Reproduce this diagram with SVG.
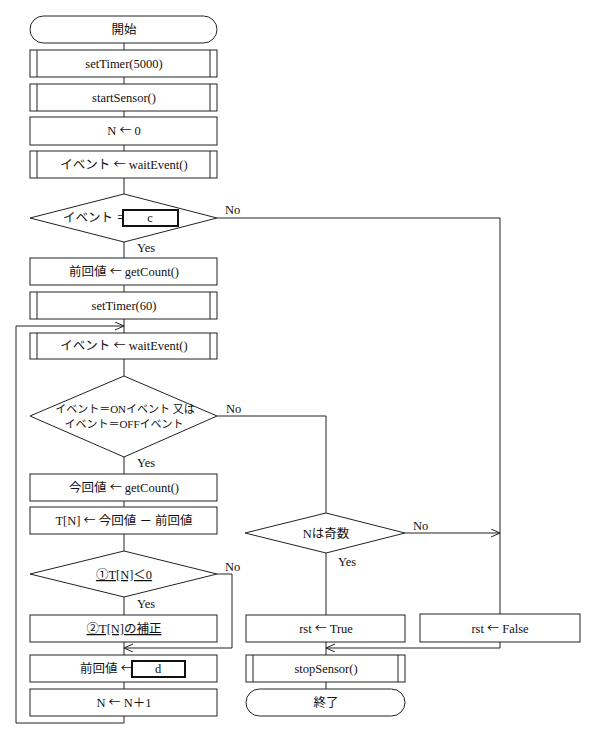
<svg xmlns="http://www.w3.org/2000/svg" width="597" height="729" viewBox="0 0 597 729">
<defs>
<style>
.s{fill:#fff;stroke:#222;stroke-width:1}
.b{fill:#fff;stroke:#111;stroke-width:2}
.l{fill:none;stroke:#222;stroke-width:1}
text{font-family:'Liberation Serif','Noto Sans CJK JP',serif;font-size:12.5px;fill:#111}
.c{text-anchor:middle}
.u{text-decoration:underline}
.a{font-family:'Noto Sans CJK JP',sans-serif;font-size:12px}
.sm{font-size:11px}
</style>
<marker id="ar" markerUnits="userSpaceOnUse" markerWidth="12" markerHeight="10" refX="9" refY="4" orient="auto">
<path d="M0,0 L9,4 L0,8" fill="none" stroke="#222" stroke-width="1"/>
</marker>
</defs>
<rect width="597" height="729" fill="#fff"/>
<g id="connectors">
<path class="l" d="M124,43 V50 M124,77 V84 M124,111 V117 M124,145 V151 M124,178 V194"/>
<path class="l" d="M124,242 V258 M124,285 V292 M124,319 V333"/>
<path class="l" d="M124,359 V376 M124,457 V474 M124,501 V507 M124,534 V551 M124,597 V615 M124,642 V655 M124,682 V689"/>
<path class="l" d="M217,218 H500 V614"/>
<path class="l" d="M217,416 H326 V513"/>
<path class="l" d="M405,533 H500" marker-end="url(#ar)"/>
<path class="l" d="M326,553 V615 M326,642 V655 M326,682 V689"/>
<path class="l" d="M500,642 V648 H326" marker-end="url(#ar)"/>
<path class="l" d="M217,574 H232 V648 H124" marker-end="url(#ar)"/>
<path class="l" d="M124,716 V723 H16 V326 H124" marker-end="url(#ar)"/>
<text x="225" y="214">No</text>
<text x="137" y="252">Yes</text>
<text x="226" y="413">No</text>
<text x="137" y="467">Yes</text>
<text x="225" y="571">No</text>
<text x="137" y="608">Yes</text>
<text x="413" y="530">No</text>
<text x="338" y="566">Yes</text>
</g>
<g id="start">
<rect class="s" x="30" y="16" width="187" height="27" rx="13.5"/>
<text class="c" x="124" y="34">開始</text>
</g>
<g id="setTimer5000">
<rect class="s" x="30" y="50" width="187" height="27"/>
<path class="l" d="M37,50 V77 M210,50 V77"/>
<text class="c" x="124" y="68">setTimer(5000)</text>
</g>
<g id="startSensor">
<rect class="s" x="30" y="84" width="187" height="27"/>
<path class="l" d="M37,84 V111 M210,84 V111"/>
<text class="c" x="124" y="102">startSensor()</text>
</g>
<g id="n0">
<rect class="s" x="30" y="117" width="187" height="28"/>
<text class="c" x="124" y="135">N <tspan class="a">←</tspan> 0</text>
</g>
<g id="wait1">
<rect class="s" x="30" y="151" width="187" height="27"/>
<path class="l" d="M37,151 V178 M210,151 V178"/>
<text class="c" x="124" y="169">イベント <tspan class="a">←</tspan> waitEvent()</text>
</g>
<g id="dec1">
<polygon class="s" points="124,194 217,218 124,242 30,218"/>
<text x="63" y="222">イベント ＝</text>
<rect class="b" x="123" y="210" width="55" height="16"/>
<text class="c" x="150" y="222">c</text>
</g>
<g id="prevCount">
<rect class="s" x="30" y="258" width="187" height="27"/>
<text class="c" x="124" y="276">前回値 <tspan class="a">←</tspan> getCount()</text>
</g>
<g id="setTimer60">
<rect class="s" x="30" y="292" width="187" height="27"/>
<path class="l" d="M37,292 V319 M210,292 V319"/>
<text class="c" x="124" y="310">setTimer(60)</text>
</g>
<g id="wait2">
<rect class="s" x="30" y="333" width="187" height="26"/>
<path class="l" d="M37,333 V359 M210,333 V359"/>
<text class="c" x="124" y="350">イベント <tspan class="a">←</tspan> waitEvent()</text>
</g>
<g id="dec2">
<polygon class="s" points="124,376 217,416 124,457 30,416"/>
<text class="c sm" x="125" y="413">イベント＝ONイベント 又は</text>
<text class="c sm" x="124" y="428">イベント＝OFFイベント</text>
</g>
<g id="curCount">
<rect class="s" x="30" y="474" width="187" height="27"/>
<text class="c" x="124" y="492">今回値 <tspan class="a">←</tspan> getCount()</text>
</g>
<g id="tn">
<rect class="s" x="30" y="507" width="187" height="27"/>
<text class="c" x="124" y="525">T[N] <tspan class="a">←</tspan> 今回値 － 前回値</text>
</g>
<g id="dec3">
<polygon class="s" points="124,551 217,574 124,597 30,574"/>
<text class="c u" x="124" y="579">①T[N]＜0</text>
</g>
<g id="fix">
<rect class="s" x="30" y="615" width="187" height="27"/>
<text class="c u" x="124" y="633">②T[N]の補正</text>
</g>
<g id="prevD">
<rect class="s" x="30" y="655" width="187" height="27"/>
<text x="80" y="673">前回値 <tspan class="a">←</tspan></text>
<rect class="b" x="132" y="661" width="53" height="16"/>
<text class="c" x="158" y="673">d</text>
</g>
<g id="inc">
<rect class="s" x="30" y="689" width="187" height="27"/>
<text class="c" x="124" y="707">N <tspan class="a">←</tspan> N＋1</text>
</g>
<g id="dec4">
<polygon class="s" points="326,513 405,533 326,553 245,533"/>
<text class="c" x="326" y="538">Nは奇数</text>
</g>
<g id="rstTrue">
<rect class="s" x="246" y="615" width="159" height="27"/>
<text class="c" x="326" y="633">rst <tspan class="a">←</tspan> True</text>
</g>
<g id="rstFalse">
<rect class="s" x="420" y="614" width="160" height="28"/>
<text class="c" x="500" y="633">rst <tspan class="a">←</tspan> False</text>
</g>
<g id="stopSensor">
<rect class="s" x="246" y="655" width="159" height="27"/>
<path class="l" d="M253,655 V682 M398,655 V682"/>
<text class="c" x="326" y="673">stopSensor()</text>
</g>
<g id="end">
<rect class="s" x="246" y="689" width="159" height="27" rx="13.5"/>
<text class="c" x="326" y="707">終了</text>
</g>
</svg>
